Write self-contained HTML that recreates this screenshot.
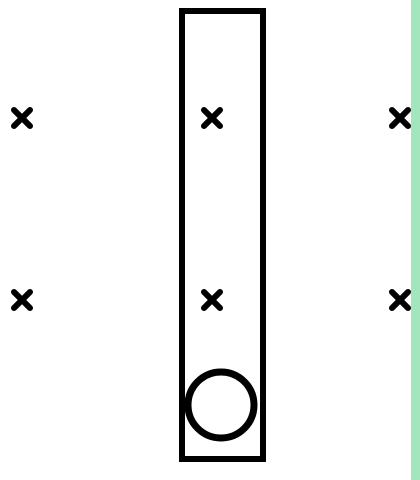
<!DOCTYPE html>
<html><head><style>body{margin:0;background:#fff}svg{display:block}</style></head><body>
<svg width="420" height="480" viewBox="0 0 420 480" xmlns="http://www.w3.org/2000/svg">
<rect width="420" height="480" fill="#fff"/>
<rect x="182" y="11" width="81" height="448" fill="none" stroke="#000" stroke-width="6"/>
<circle cx="221" cy="405" r="33" fill="#fff" stroke="#000" stroke-width="7"/>
<g stroke="#000" stroke-width="6" stroke-linecap="round">
<path d="M14 110l16 16M30 110l-16 16"/>
<path d="M204 110l16 16M220 110l-16 16"/>
<path d="M392 110l16 16M408 110l-16 16"/>
<path d="M14 292l16 16M30 292l-16 16"/>
<path d="M204 292l16 16M220 292l-16 16"/>
<path d="M392 292l16 16M408 292l-16 16"/>
</g>
<rect x="411" y="0" width="9" height="480" fill="#a3e6bd"/>
</svg>
</body></html>
